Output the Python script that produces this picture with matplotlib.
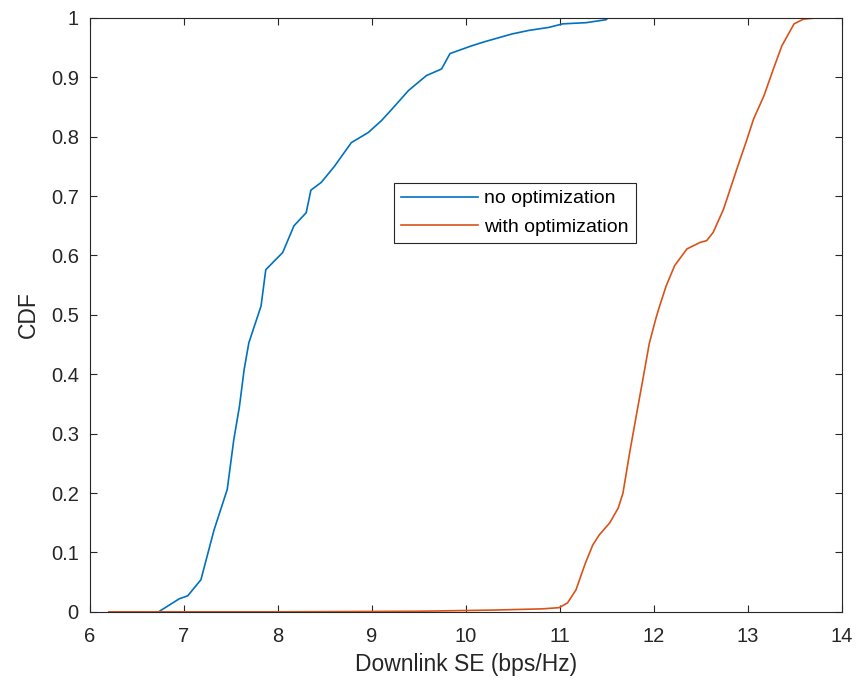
import matplotlib
matplotlib.use("Agg")
import matplotlib.pyplot as plt
import numpy as np

plt.rcParams['font.family'] = ['Liberation Sans', 'DejaVu Sans']

# no optimization (blue)
se_no = [6.73, 6.82, 6.95, 7.04, 7.18, 7.32, 7.46, 7.53, 7.59, 7.64, 7.69, 7.82,
         7.87, 8.05, 8.17, 8.30, 8.35, 8.46, 8.60, 8.78, 8.96, 9.10, 9.21, 9.39,
         9.58, 9.74, 9.83, 10.06, 10.20, 10.49, 10.67, 10.88, 11.03, 11.28, 11.49, 11.51]
cdf_no = [0.0, 0.009, 0.022, 0.027, 0.054, 0.138, 0.206, 0.29, 0.346, 0.408, 0.453, 0.515,
          0.576, 0.605, 0.65, 0.672, 0.71, 0.723, 0.75, 0.79, 0.807, 0.827, 0.846, 0.878,
          0.903, 0.914, 0.94, 0.953, 0.96, 0.973, 0.979, 0.984, 0.99, 0.992, 0.997, 1.0]

# with optimization (orange)
se_opt = [6.2, 8.0, 9.5, 10.3, 10.81, 10.99, 11.08, 11.17, 11.27, 11.35, 11.42, 11.53,
          11.62, 11.67, 11.74, 11.81, 11.88, 11.95, 12.02, 12.06, 12.13, 12.22, 12.35,
          12.49, 12.56, 12.63, 12.74, 12.88, 12.99, 13.06, 13.17, 13.27, 13.36, 13.49,
          13.59, 13.73]
cdf_opt = [0.0, 0.0, 0.001, 0.003, 0.005, 0.007, 0.015, 0.037, 0.082, 0.113, 0.13, 0.15,
           0.175, 0.2, 0.267, 0.329, 0.39, 0.452, 0.494, 0.515, 0.549, 0.583, 0.611,
           0.622, 0.625, 0.639, 0.678, 0.745, 0.796, 0.83, 0.869, 0.914, 0.953, 0.99,
           0.998, 1.0]

fig = plt.figure(figsize=(8.57, 6.89), dpi=100)
ax = fig.add_axes([0.105, 0.112, 0.8775, 0.862])

ax.plot(se_no, cdf_no, color='#0072BD', lw=1.2, label='no optimization')
ax.plot(se_opt, cdf_opt, color='#D95319', lw=1.2, label='with optimization')

ax.set_xlim(6, 14)
ax.set_ylim(0, 1)
ax.set_xticks(np.arange(6, 15, 1))
ax.set_yticks(np.arange(0, 1.01, 0.1))
ax.set_yticklabels(['0', '0.1', '0.2', '0.3', '0.4', '0.5', '0.6', '0.7', '0.8', '0.9', '1'])
ax.tick_params(direction='in', top=True, right=True, labelsize=14.5, colors='#262626',
               length=5, width=0.8)
ax.tick_params(axis='x', pad=11)
ax.tick_params(axis='y', pad=8)
for s in ax.spines.values():
    s.set_color('#262626')
    s.set_linewidth(0.8)

ax.set_xlabel('Downlink SE (bps/Hz)', fontsize=16.5, color='#262626', labelpad=5)
ax.set_ylabel('CDF', fontsize=16.5, color='#262626', labelpad=8)

leg = ax.legend(loc='upper left', bbox_to_anchor=(0.404, 0.722), fontsize=14,
                fancybox=False, framealpha=1, edgecolor='#262626',
                handlelength=4.0, borderpad=0.35, labelspacing=0.55, handletextpad=0.3,
                borderaxespad=0)
leg.get_frame().set_linewidth(0.8)

fig.savefig('out.png', dpi=100)
